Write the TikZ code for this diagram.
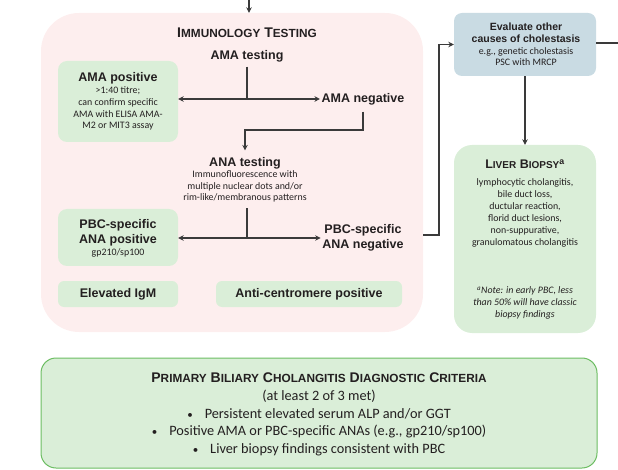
\documentclass[tikz,border=0pt]{standalone}
\usepackage{fontspec}
\setmainfont{Carlito}
\newfontfamily\hb{Liberation Sans}
\usetikzlibrary{arrows.meta}
\definecolor{pinkf}{HTML}{FDEEEE}
\definecolor{greenf}{HTML}{DAEED8}
\definecolor{bluef}{HTML}{C9DBE3}
\definecolor{greend}{HTML}{6CBD62}
\definecolor{lc}{HTML}{3A3A3A}
\definecolor{tc}{HTML}{231F20}
\newcommand\scx[2][11.8]{{\fontsize{#1}{#1}\selectfont #2}}
\newcommand\bul{{\fontsize{11}{11}\selectfont •}\hspace{12pt}}
\begin{document}
\begin{tikzpicture}[x=1pt,y=-1pt,
  every node/.style={text=tc, inner sep=1.5pt},
  bt/.style={font=\hb\bfseries\fontsize{12.5}{15}\selectfont, align=center},
  ttl/.style={font=\hb\bfseries\fontsize{14}{16}\selectfont, align=center},
  sm/.style={font=\fontsize{9.9}{11.8}\selectfont, align=center},
  smi/.style={font=\itshape\fontsize{9.9}{11.8}\selectfont, align=center},
  gbox/.style={fill=greenf, rounded corners=9pt, inner sep=0pt},
  conn/.style={draw=lc, line width=1.1pt},
  arr/.style={conn, -{Stealth[length=5.5pt,width=5.5pt]}},
]
\useasboundingbox (0,0) rectangle (618,470);

% immunology panel
\node[fill=pinkf, rounded corners=38pt, minimum width=382pt, minimum height=319pt, inner sep=0pt] (immuno) at (232,172.5) {};
\coordinate (topin) at (249,0);
\draw[arr] (topin) -- (topin |- immuno.north);

\node[ttl] (title) at (247,33) {I\scx{MMUNOLOGY} T\scx{ESTING}};
\node[bt] (amatest) at (247,56) {AMA testing};

\node[gbox, minimum width=120pt, minimum height=81pt] (amapos) at (118,101.5) {};
\node[bt] (amaposT) at (118,78) {AMA positive};
\node[sm] (amaposS) at (118,108.5) {>1:40 titre;\\can confirm specific\\AMA with ELISA AMA-\\M2 or MIT3 assay};

\node[bt] (amaneg) at (363,99) {AMA negative};
\coordinate (j1) at (247,99);
\draw[conn] ([yshift=-3pt]amatest.south) -- (j1);
\draw[arr] (j1) -- (amapos.east |- j1);
\draw[arr] (j1) -- (amaneg.west);

\node[bt] (anatest) at (245,163) {ANA testing};
\node[sm] (anasub) at (245,186.5) {Immunofluorescence with\\multiple nuclear dots and/or\\rim-like/membranous patterns};
\coordinate (k) at (245,130);
\draw[arr] ([yshift=-5pt]amaneg.south) |- (k) -- ([yshift=5pt]anatest.north);

\coordinate (j2) at (247,238);
\draw[conn] ([yshift=-4pt]anasub.south -| j2) -- (j2);
\node[gbox, minimum width=120pt, minimum height=57pt] (pbcpos) at (118,237.5) {};
\node[bt] (pbcposT) at (118,232.5) {PBC-specific\\ANA positive};
\node[sm] (pbcposS) at (118,253) {gp210/sp100};
\node[bt] (pbcneg) at (363,237.5) {PBC-specific\\ANA negative};
\draw[arr] (j2) -- (pbcpos.east |- j2);
\draw[arr] (j2) -- (pbcneg.west |- j2);

\node[gbox, rounded corners=6pt, minimum width=120pt, minimum height=26pt, bt] (igm) at (118,294) {Elevated IgM};
\node[gbox, rounded corners=6pt, minimum width=186pt, minimum height=26pt, bt] (anti) at (309,294) {Anti-centromere positive};

% right column
\node[fill=bluef, rounded corners=8pt, minimum width=142pt, minimum height=63pt, inner sep=0pt] (eval) at (525,44.5) {};
\node[font=\hb\bfseries\fontsize{10.5}{12}\selectfont, align=center] (evalT) at (526,33) {Evaluate other\\causes of cholestasis};
\node[sm, font=\fontsize{9.9}{11.5}\selectfont] (evalS) at (526,56.5) {e.g., genetic cholestasis\\PSC with MRCP};

\coordinate (c1) at (439,235);
\draw[arr] (immuno.east |- c1) -- (c1) |- (eval.west);
\coordinate (offr) at (618,43);
\draw[conn] (eval.east |- offr) -- (offr);

\node[gbox, rounded corners=18pt, minimum width=142pt, minimum height=188pt] (liver) at (525,239) {};
\draw[arr] (eval.south) -- (liver.north);
\node[bt] (liverT) at (525,164) {L\scx[10]{IVER} B\scx[10]{IOPSY}\textsuperscript{a}};
\node[sm, font=\fontsize{9.9}{12}\selectfont] (liverS) at (525,213) {lymphocytic cholangitis,\\bile duct loss,\\ductular reaction,\\florid duct lesions,\\non-suppurative,\\granulomatous cholangitis};
\node[smi] (liverN) at (525,303) {\textsuperscript{a}Note: in early PBC, less\\than 50\% will have classic\\biopsy findings};

% criteria box
\node[fill=greenf, draw=greend, line width=1pt, rounded corners=15pt, minimum width=556pt, minimum height=110pt, inner sep=0pt] (crit) at (319,413) {};
\node[ttl] (critT) at (319,378) {P\scx{RIMARY} B\scx{ILIARY} C\scx{HOLANGITIS} D\scx{IAGNOSTIC} C\scx{RITERIA}};
\node[font=\fontsize{14.3}{17.8}\selectfont, align=center] (critS) at (319,423) {(at least 2 of 3 met)\\
  \bul Persistent elevated serum ALP and/or GGT\\
  \bul Positive AMA or PBC-specific ANAs (e.g., gp210/sp100)\\
  \bul Liver biopsy findings consistent with PBC};
\end{tikzpicture}
\end{document}
